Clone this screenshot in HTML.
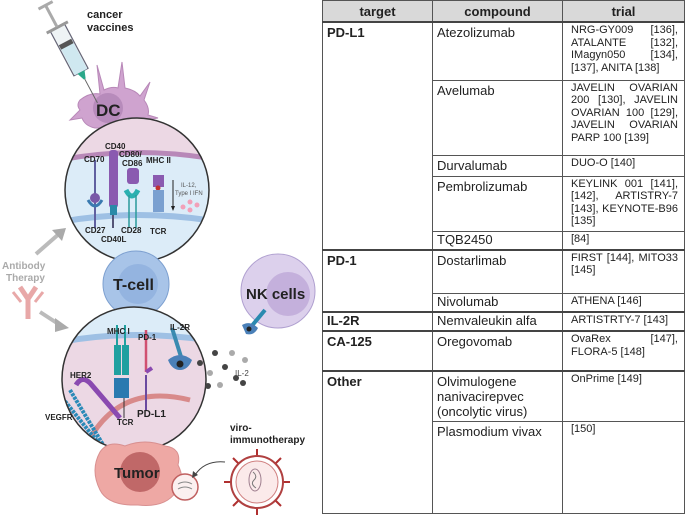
<!DOCTYPE html>
<html><head><style>
body{margin:0;width:685px;height:516px;background:#fff;overflow:hidden;position:relative;font-family:"Liberation Sans",Arial,sans-serif}
table{position:absolute;left:322px;top:0;border-collapse:collapse;width:362px;height:514px;table-layout:fixed}
td,th{border:1px solid #555;vertical-align:top;padding:2px 4px;color:#222}
th{background:#d9d9d9;font-size:13px;font-weight:bold;text-align:center;vertical-align:middle;height:20px;padding:0;border-bottom:2px solid #444}
.t{font-weight:bold;font-size:13px}
.c{font-size:13px;line-height:15px}
.r{font-size:11px;line-height:12.5px;text-align:justify;padding:1px 6px 1px 8px}
.thick td{border-top:2px solid #444}
svg{position:absolute;left:0;top:0}
</style></head><body>
<svg width="322" height="516" viewBox="0 0 322 516" font-family="Liberation Sans,Arial,sans-serif">
<defs>
<clipPath id="c1"><circle cx="137" cy="190" r="72"/></clipPath>
<clipPath id="c2"><circle cx="134" cy="379" r="72"/></clipPath>
</defs>
<!-- DC -->
<path d="M80 100 Q90 92 100 94 L97 65 L104 90 Q112 86 118 88 L122 62 L125 88 Q135 90 140 96 L150 82 L144 100 Q150 108 148 115 L158 118 L146 120 Q140 128 125 128 L95 128 Q85 126 82 118 L70 120 L80 110 Q76 105 80 100Z" fill="#cfa3cf" stroke="#b888b8"/>
<circle cx="108" cy="108" r="15" fill="#b78bbb"/>
<text x="96" y="116" font-size="17" font-weight="bold" fill="#222">DC</text>
<!-- syringe -->
<g transform="translate(81,72) rotate(-28)">
<rect x="-8" y="-50" width="16" height="50" fill="#eef3f5" stroke="#667" stroke-width="1.2"/>
<rect x="-7" y="-30" width="14" height="30" fill="#cfe8f0"/>
<rect x="-7" y="-34" width="14" height="5" fill="#555"/>
<rect x="-12" y="-52" width="24" height="3" fill="#999"/>
<rect x="-1.5" y="-75" width="3" height="24" fill="#aaa"/>
<rect x="-8" y="-77" width="16" height="3" fill="#aaa"/>
<path d="M-4 0 L4 0 L1 8 L-1 8Z" fill="#2aa88a"/>
<line x1="0" y1="8" x2="0" y2="35" stroke="#666" stroke-width="1"/>
</g>
<text x="87" y="18" font-size="11" font-weight="bold" fill="#222">cancer</text>
<text x="87" y="31" font-size="11" font-weight="bold" fill="#222">vaccines</text>
<!-- circle 1 -->
<g clip-path="url(#c1)">
<rect x="60" y="110" width="160" height="160" fill="#dcecf8"/>
<path d="M60 110 H220 V160 Q137 145 60 160Z" fill="#ecd8e4"/>
<path d="M60 160 Q137 145 220 160" stroke="#b888b8" stroke-width="5" fill="none"/>
<path d="M60 222 Q137 208 220 222" stroke="#9ec0e4" stroke-width="6" fill="none"/>
<line x1="95" y1="160" x2="95" y2="228" stroke="#6060a0" stroke-width="2"/>
<circle cx="95" cy="198" r="5" fill="#7a58a8"/>
<path d="M88 200 Q95 212 102 200" stroke="#3a7ab0" stroke-width="3" fill="none"/>
<rect x="109" y="150" width="9" height="58" rx="3" fill="#8a5ab0"/>
<rect x="110" y="205" width="7" height="10" fill="#2a8aa8"/>
<line x1="113" y1="215" x2="113" y2="228" stroke="#557" stroke-width="2"/>
<rect x="127" y="168" width="12" height="16" rx="3" fill="#8a5ab0"/>
<path d="M126 190 q6 12 12 0" stroke="#2ab0b0" stroke-width="5" fill="none"/>
<line x1="129" y1="195" x2="129" y2="228" stroke="#2a9a9a" stroke-width="1.5"/>
<line x1="136" y1="195" x2="136" y2="228" stroke="#2a9a9a" stroke-width="1.5"/>
<rect x="153" y="175" width="11" height="12" fill="#8a5ab0"/>
<circle cx="158" cy="188" r="2.5" fill="#c03030"/>
<rect x="153" y="190" width="11" height="22" fill="#7aa0d0"/>
<line x1="173" y1="180" x2="173" y2="210" stroke="#222"/>
<path d="M171 206 l2 5 2-5z" fill="#222"/>
<circle cx="183" cy="207" r="2.5" fill="#f2a0b8"/><circle cx="190" cy="202" r="2.5" fill="#f2a0b8"/><circle cx="190" cy="210" r="2.5" fill="#f2a0b8"/><circle cx="197" cy="205" r="2.5" fill="#f2a0b8"/>
</g>
<circle cx="137" cy="190" r="72" fill="none" stroke="#333" stroke-width="1.5"/>
<g font-size="8" font-weight="bold" fill="#222">
<text x="105" y="149">CD40</text>
<text x="84" y="162">CD70</text>
<text x="119" y="157">CD80/</text>
<text x="122" y="166">CD86</text>
<text x="146" y="163">MHC II</text>
<text x="85" y="233">CD27</text>
<text x="121" y="233">CD28</text>
<text x="101" y="242">CD40L</text>
<text x="150" y="234">TCR</text>
</g>
<text x="181" y="187" font-size="6" fill="#555">IL-12,</text>
<text x="175" y="195" font-size="6" fill="#555">Type I IFN</text>
<!-- T-cell -->
<circle cx="136" cy="284" r="33" fill="#a8c4e8" stroke="#7da0d0"/>
<circle cx="138" cy="284" r="20" fill="#94b4e0"/>
<text x="113" y="290" font-size="16" font-weight="bold" fill="#222">T-cell</text>
<!-- circle 2 -->
<g clip-path="url(#c2)">
<rect x="60" y="300" width="160" height="160" fill="#ecd8e4"/>
<path d="M60 300 H220 V342 Q134 328 60 342Z" fill="#dcecf8"/>
<path d="M60 342 Q134 328 220 342" stroke="#9ec0e4" stroke-width="6" fill="none"/>
<path d="M80 460 Q110 380 190 400" stroke="#d88a8a" stroke-width="5" fill="none"/>
<rect x="114" y="345" width="7" height="30" fill="#20a0a0"/><rect x="122" y="345" width="7" height="30" fill="#20a0a0"/>
<line x1="117" y1="325" x2="117" y2="345" stroke="#20a0a0" stroke-width="2"/><line x1="125" y1="325" x2="125" y2="345" stroke="#20a0a0" stroke-width="2"/>
<circle cx="121" cy="383" r="3" fill="#c03030"/>
<rect x="114" y="378" width="15" height="20" fill="#2a7ab0"/>
<line x1="124" y1="398" x2="124" y2="418" stroke="#333"/>
<line x1="146" y1="330" x2="146" y2="372" stroke="#d05070" stroke-width="2.5"/>
<path d="M146 372 l6 -4" stroke="#8a4ab0" stroke-width="4"/>
<line x1="146" y1="375" x2="146" y2="410" stroke="#6a4aa0" stroke-width="2"/>
<path d="M76 385 q6-10 14-2 l30 35" stroke="#8a4ab0" stroke-width="5" fill="none"/>
<path d="M60 395 l40 50" stroke="#2a8ab8" stroke-width="4" stroke-dasharray="3 1"/>
<path d="M70 390 l35 58" stroke="#2a8ab8" stroke-width="4" stroke-dasharray="3 1"/>
</g>
<circle cx="134" cy="379" r="72" fill="none" stroke="#333" stroke-width="1.5"/>
<line x1="172" y1="328" x2="182" y2="360" stroke="#3a8ab0" stroke-width="4"/>
<path d="M168 360 q12 -10 24 0 q-4 10 -12 10 q-8 0 -12-10z" fill="#4a80b8"/>
<circle cx="180" cy="364" r="3.5" fill="#222"/>
<g font-size="8" font-weight="bold" fill="#222">
<text x="107" y="334">MHC I</text>
<text x="138" y="340">PD-1</text>
<text x="170" y="330">IL-2R</text>
<text x="70" y="378">HER2</text>
<text x="45" y="420">VEGFR</text>
<text x="117" y="425">TCR</text>
</g>
<text x="137" y="417" font-size="10" font-weight="bold" fill="#222">PD-L1</text>
<g fill="#444"><circle cx="215" cy="353" r="3"/><circle cx="232" cy="353" r="3" fill="#aaa"/><circle cx="200" cy="363" r="3"/><circle cx="225" cy="367" r="3"/><circle cx="245" cy="360" r="3" fill="#aaa"/><circle cx="210" cy="373" r="3" fill="#aaa"/><circle cx="236" cy="378" r="3"/><circle cx="220" cy="385" r="3" fill="#aaa"/><circle cx="208" cy="386" r="3"/><circle cx="243" cy="383" r="3"/></g>
<text x="235" y="376" font-size="8" fill="#444">IL-2</text>
<!-- NK -->
<circle cx="278" cy="291" r="37" fill="#dcd0ec" stroke="#b0a0d0"/>
<circle cx="288" cy="294" r="22" fill="#c4b0dc"/>
<text x="246" y="299" font-size="15" font-weight="bold" fill="#222">NK cells</text>
<line x1="265" y1="310" x2="250" y2="328" stroke="#2a8ab0" stroke-width="4"/>
<path d="M242 325 q8-5 16 3 q-4 8 -12 6z" fill="#4a80b8"/>
<circle cx="249" cy="329" r="2.5" fill="#222"/>
<!-- antibody -->
<text x="2" y="269" font-size="10" font-weight="bold" fill="#aaa">Antibody</text>
<text x="6" y="281" font-size="10" font-weight="bold" fill="#aaa">Therapy</text>
<path d="M20 287 l8 12 v20 M36 287 l-8 12" stroke="#e8a8a8" stroke-width="5" fill="none"/>
<path d="M13 292 l8 10 M43 292 l-8 10" stroke="#e8a8a8" stroke-width="3"/>
<path d="M36 254 L60 233" stroke="#bbb" stroke-width="4"/><path d="M52 230 L66 228 L62 241Z" fill="#aaa"/>
<path d="M40 312 L60 325" stroke="#bbb" stroke-width="4"/><path d="M55 318 L69 328 L55 332Z" fill="#aaa"/>
<!-- tumor -->
<path d="M100 452 Q108 440 125 446 Q145 438 165 446 Q182 448 178 465 Q186 480 176 492 Q165 508 138 505 Q108 506 100 490 Q90 470 100 452Z" fill="#eea8a4" stroke="#d89090"/>
<circle cx="140" cy="472" r="20" fill="#c06868"/>
<text x="114" y="478" font-size="15" font-weight="bold" fill="#222">Tumor</text>
<circle cx="185" cy="487" r="13" fill="#fbf0f0" stroke="#c06060" stroke-width="1.5"/>
<path d="M178 484 q7-4 14 0 M178 489 q7-4 14 0" stroke="#888" fill="none"/>
<path d="M225 462 Q205 460 195 475" stroke="#444" fill="none"/><path d="M192 478 l1-7 5 4z" fill="#444"/>
<!-- virus -->
<text x="230" y="431" font-size="10" font-weight="bold" fill="#222">viro-</text>
<text x="230" y="443" font-size="10" font-weight="bold" fill="#222">immunotherapy</text>
<g stroke="#b03030" stroke-width="2"><line x1="257" y1="456" x2="257" y2="449"/><line x1="257" y1="508" x2="257" y2="515"/><line x1="231" y1="482" x2="224" y2="482"/><line x1="283" y1="482" x2="290" y2="482"/><line x1="239" y1="464" x2="233" y2="458"/><line x1="275" y1="464" x2="281" y2="458"/><line x1="239" y1="500" x2="233" y2="506"/><line x1="275" y1="500" x2="281" y2="506"/></g>
<circle cx="257" cy="482" r="26" fill="#fff" stroke="#b04040" stroke-width="2"/>
<circle cx="257" cy="482" r="21" fill="#fbeaea" stroke="#d08080"/>
<ellipse cx="255" cy="480" rx="6" ry="11" fill="none" stroke="#a08090"/>
<path d="M253 472 q5 4 1 8 q-4 4 2 8" stroke="#777" fill="none"/>
</svg>
<table>
<colgroup><col style="width:110px"><col style="width:130px"><col style="width:122px"></colgroup>
<tr><th>target</th><th>compound</th><th>trial</th></tr>
<tr style="height:58px"><td class="t" rowspan="5">PD-L1</td><td class="c">Atezolizumab</td><td class="r">NRG-GY009 [136], ATALANTE [132], IMagyn050 [134], [137], ANITA [138]</td></tr>
<tr style="height:75px"><td class="c">Avelumab</td><td class="r">JAVELIN OVARIAN 200 [130], JAVELIN OVARIAN 100 [129], JAVELIN OVARIAN PARP 100 [139]</td></tr>
<tr style="height:21px"><td class="c">Durvalumab</td><td class="r">DUO-O [140]</td></tr>
<tr style="height:55px"><td class="c">Pembrolizumab</td><td class="r">KEYLINK 001 [141], [142], ARTISTRY-7 [143], KEYNOTE-B96 [135]</td></tr>
<tr style="height:16px"><td class="c" style="padding-top:0">TQB2450</td><td class="r">[84]</td></tr>
<tr class="thick" style="height:44px"><td class="t" rowspan="2">PD-1</td><td class="c">Dostarlimab</td><td class="r">FIRST [144], MITO33 [145]</td></tr>
<tr style="height:17px"><td class="c" style="padding-top:0">Nivolumab</td><td class="r">ATHENA [146]</td></tr>
<tr class="thick" style="height:15px"><td class="t" style="padding-top:0">IL-2R</td><td class="c" style="padding-top:0">Nemvaleukin alfa</td><td class="r">ARTISTRTY-7 [143]</td></tr>
<tr class="thick" style="height:40px"><td class="t">CA-125</td><td class="c">Oregovomab</td><td class="r">OvaRex [147], FLORA-5 [148]</td></tr>
<tr class="thick" style="height:43px"><td class="t" rowspan="2">Other</td><td class="c">Olvimulogene nanivacirepvec (oncolytic virus)</td><td class="r">OnPrime [149]</td></tr>
<tr><td class="c">Plasmodium vivax</td><td class="r">[150]</td></tr>
</table>
</body></html>
